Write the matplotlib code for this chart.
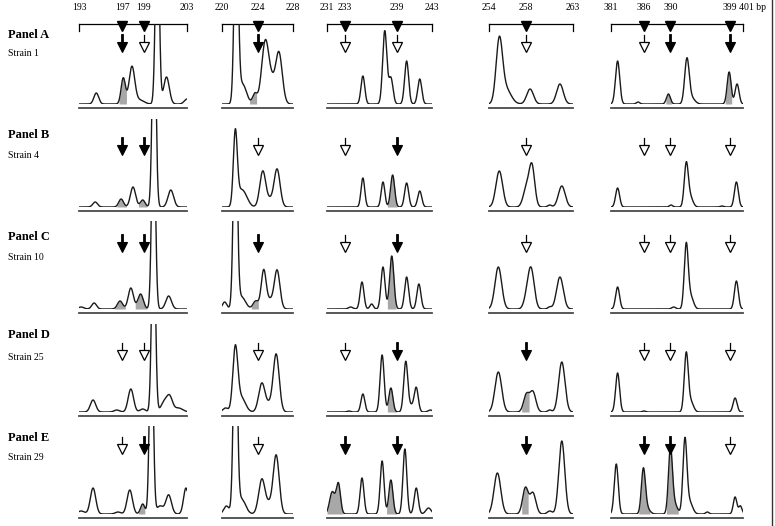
import numpy as np
import matplotlib
matplotlib.use('Agg')
import matplotlib.pyplot as plt
from matplotlib.lines import Line2D

plt.rcParams['font.family'] = ['Liberation Serif', 'DejaVu Serif']

# size windows (bp) of the five loci and the sizes marked on the scale
loci_lo = [193, 220, 231, 254, 381]
loci_hi = [203, 228, 243, 263, 401]
loci_marks = [[197, 199], [224], [233, 239], [258], [386, 390, 399]]

panels = ['Panel A', 'Panel B', 'Panel C', 'Panel D', 'Panel E']
strains = ['Strain 1', 'Strain 4', 'Strain 10', 'Strain 25', 'Strain 29']

# arrow over each marked size: 'f' filled (peak present), 'o' open (absent)
arrows = [
    [['f', 'o'], ['f'], ['o', 'o'], ['o'], ['o', 'f', 'f']],
    [['f', 'f'], ['o'], ['o', 'f'], ['o'], ['o', 'o', 'o']],
    [['f', 'f'], ['f'], ['o', 'f'], ['o'], ['o', 'o', 'o']],
    [['o', 'o'], ['o'], ['o', 'f'], ['f'], ['o', 'o', 'o']],
    [['o', 'f'], ['o'], ['f', 'f'], ['f'], ['f', 'f', 'o']],
]

# peaks: (size bp, height, width bp)
peaks_a = [
    [(194.6, 11, 0.22), (197.1, 26, 0.2), (197.9, 37, 0.26), (198.6, 4, 0.4),
     (200.25, 200, 0.17), (201.1, 27, 0.26), (203.0, 5, 0.25)],
    [(221.6, 200, 0.22), (222.3, 20, 0.45), (223.7, 10, 0.25), (224.9, 64, 0.42),
     (225.65, 12, 0.3), (226.4, 52, 0.38)],
    [(235.1, 28, 0.22), (237.6, 73, 0.24), (238.3, 26, 0.24), (240.1, 43, 0.23),
     (241.6, 25, 0.23)],
    [(255.1, 61, 0.34), (255.8, 15, 0.55), (258.4, 15, 0.36), (261.6, 20, 0.36)],
    [(382.0, 43, 0.32), (385.1, 2, 0.25), (389.7, 10, 0.3), (392.5, 44, 0.34),
     (393.2, 6, 0.5), (398.9, 32, 0.3), (400.1, 20, 0.3)],
]
peaks_b = [
    [(194.5, 5, 0.22), (196.9, 8, 0.22), (198.0, 20, 0.24), (198.9, 7, 0.22),
     (199.95, 200, 0.17), (201.5, 17, 0.26)],
    [(221.5, 72, 0.22), (222.1, 15, 0.45), (222.7, 6, 0.4), (224.6, 36, 0.34),
     (225.4, 6, 0.3), (226.2, 38, 0.34)],
    [(235.1, 29, 0.21), (237.4, 25, 0.21), (238.5, 32, 0.23), (240.1, 24, 0.23),
     (241.6, 16, 0.23)],
    [(255.1, 36, 0.36), (258.0, 18, 0.34), (258.6, 40, 0.3), (260.5, 2, 0.2),
     (261.8, 21, 0.36)],
    [(382.0, 19, 0.3), (390.1, 2, 0.25), (392.4, 42, 0.3), (393.0, 10, 0.4),
     (397.8, 1, 0.25), (400.0, 25, 0.3)],
]
peaks_c = [
    [(193.2, 2, 0.25), (194.4, 6, 0.22), (196.8, 8, 0.24), (197.8, 21, 0.24),
     (198.7, 15, 0.25), (199.9, 200, 0.17), (201.3, 13, 0.26)],
    [(220.3, 7, 0.25), (221.5, 200, 0.22), (222.2, 12, 0.45), (223.8, 8, 0.3),
     (224.7, 39, 0.28), (225.4, 8, 0.3), (226.2, 39, 0.32)],
    [(233.7, 2, 0.25), (235.0, 27, 0.22), (236.1, 5, 0.2), (237.4, 42, 0.23),
     (238.4, 53, 0.24), (240.1, 32, 0.23), (241.5, 25, 0.23)],
    [(255.0, 42, 0.36), (258.0, 8, 0.3), (258.5, 40, 0.34), (260.5, 2, 0.2),
     (261.6, 32, 0.36)],
    [(382.0, 22, 0.3), (390.5, 2, 0.3), (392.4, 64, 0.3), (393.1, 12, 0.4),
     (400.0, 28, 0.3)],
]
peaks_d = [
    [(194.3, 12, 0.25), (196.5, 2, 0.25), (197.8, 23, 0.25), (198.9, 3, 0.25),
     (199.9, 200, 0.17), (200.9, 10, 0.3), (201.4, 14, 0.26), (202.2, 4, 0.4)],
    [(220.4, 4, 0.3), (221.5, 63, 0.28), (222.2, 14, 0.45), (224.5, 29, 0.36),
     (225.3, 6, 0.3), (226.1, 58, 0.34)],
    [(233.5, 1, 0.2), (235.1, 18, 0.22), (237.3, 57, 0.23), (238.3, 24, 0.23),
     (240.0, 50, 0.23), (240.6, 6, 0.3), (241.2, 24, 0.23), (242.8, 2, 0.25)],
    [(255.0, 40, 0.36), (258.0, 17, 0.3), (258.7, 20, 0.32), (260.5, 2, 0.2),
     (261.8, 50, 0.34)],
    [(382.0, 39, 0.3), (386.0, 1, 0.25), (392.4, 58, 0.3), (393.1, 10, 0.4),
     (399.8, 14, 0.3)],
]
peaks_e = [
    [(193.2, 3, 0.3), (194.3, 26, 0.25), (196.6, 2, 0.25), (197.7, 24, 0.25),
     (198.9, 10, 0.2), (199.7, 200, 0.17), (200.5, 8, 0.3), (201.3, 19, 0.26),
     (202.9, 26, 0.22)],
    [(220.5, 8, 0.3), (221.5, 200, 0.22), (222.2, 15, 0.45), (224.5, 35, 0.36),
     (225.3, 8, 0.3), (226.1, 59, 0.34)],
    [(231.6, 22, 0.3), (232.3, 30, 0.24), (235.0, 36, 0.22), (237.3, 53, 0.22),
     (238.3, 34, 0.23), (239.9, 65, 0.22), (241.2, 26, 0.23), (242.6, 6, 0.3)],
    [(254.9, 41, 0.36), (257.9, 26, 0.3), (258.7, 21, 0.32), (260.5, 3, 0.25),
     (261.8, 73, 0.32)],
    [(381.8, 50, 0.3), (385.9, 43, 0.3), (386.4, 6, 0.45), (390.0, 63, 0.3),
     (390.6, 10, 0.45), (392.2, 73, 0.3), (392.9, 12, 0.45), (395.6, 2, 0.25),
     (399.8, 17, 0.27), (400.6, 8, 0.25)],
]
peaks = [peaks_a, peaks_b, peaks_c, peaks_d, peaks_e]

# shaded (grey) areas under the traces, bp from - to
shades = [
    [[(196.7, 197.4)], [(223.1, 223.9)], [], [], [(389.3, 390.2), (398.3, 399.3)]],
    [[(196.5, 197.4), (198.5, 199.3)], [], [(237.9, 239.0)], [], []],
    [[(196.3, 197.3), (198.2, 199.3)], [(223.3, 224.1)], [(237.9, 238.9)], [], []],
    [[], [], [(237.9, 239.0)], [(257.5, 258.3)], []],
    [[(198.5, 199.1)], [], [(231.0, 232.8), (237.8, 239.0)], [(257.5, 258.2)],
     [(385.2, 386.9), (389.4, 391.2)]],
]

# ---- layout (pixels of a 775 x 526 figure) ----
W, H = 775, 526
col_px = [(79, 187), (222, 293), (327, 432), (489, 573), (611, 743)]
row_base = [104, 207, 309, 412, 514]
row_top = [24, 119, 221, 324, 426]
arrow_tip = [52, 52, 57, 52, 60]
panel_y = [35, 135, 237, 335, 438]
strain_y = [54, 155, 258, 358, 458]

fig = plt.figure(figsize=(W / 100, H / 100), dpi=100)
fig.patch.set_facecolor('white')

for c in range(5):
    lo, hi = loci_lo[c], loci_hi[c]
    x0, x1 = col_px[c]

    # size scale on top
    sax = fig.add_axes([x0 / W, 1 - 40 / H, (x1 - x0) / W, 40 / H])
    sax.set_xlim(lo, hi)
    sax.set_ylim(40, 0)
    sax.axis('off')
    sax.plot([lo, hi], [24, 24], color='k', lw=0.9, clip_on=False)
    for e in (lo, hi):
        sax.plot([e, e], [24, 31], color='k', lw=0.9, clip_on=False)
    sax.plot(loci_marks[c], [25.5] * len(loci_marks[c]), 'v', ms=7.5,
             color='k', clip_on=False)
    for v in [lo] + loci_marks[c]:
        sax.text(v, 7, str(v), ha='center', va='center', fontsize=7)
    if c == 4:
        sax.annotate('%d bp' % hi, (hi, 7), xytext=(-3, 0),
                     textcoords='offset points', ha='left', va='center',
                     fontsize=7)
    else:
        sax.text(hi, 7, str(hi), ha='center', va='center', fontsize=7)

    for r in range(5):
        base, top = row_base[r], row_top[r]
        hgt = base - top
        ax = fig.add_axes([x0 / W, 1 - base / H, (x1 - x0) / W, hgt / H])
        ax.set_xlim(lo, hi)
        ax.set_ylim(0, hgt)
        ax.axis('off')

        x = np.linspace(lo, hi, 900)
        y = np.zeros_like(x)
        for p, h, s in peaks[r][c]:
            y += h * np.exp(-0.5 * ((x - p) / s) ** 2)

        for a, b in shades[r][c]:
            m = (x >= a) & (x <= b)
            ax.fill_between(x[m], 0, y[m], color='#a8a8a8', lw=0)
        ax.plot(x, y, color='#1a1a1a', lw=1.0)
        ax.plot([lo, hi], [-4, -4], color='#4a4a4a', lw=1.3, clip_on=False)

        tip = arrow_tip[r]
        for bp, kind in zip(loci_marks[c], arrows[r][c]):
            if kind == 'f':
                ax.plot([bp, bp], [tip + 7, tip + 17], color='k', lw=2.0,
                        clip_on=False, zorder=4)
                ax.plot(bp, tip + 4.8, 'v', ms=7, mfc='k', mec='k', mew=0.8,
                        clip_on=False, zorder=5)
            else:
                ax.plot([bp, bp], [tip + 8, tip + 17], color='k', lw=0.9,
                        clip_on=False, zorder=4)
                ax.plot(bp, tip + 4.8, 'v', ms=7, mfc='white', mec='k',
                        mew=0.9, clip_on=False, zorder=5)

for r in range(5):
    fig.text(8 / W, 1 - panel_y[r] / H, panels[r], fontsize=9,
             fontweight='bold', ha='left', va='center')
    fig.text(8 / W, 1 - strain_y[r] / H, strains[r], fontsize=7,
             ha='left', va='center')

fig.add_artist(Line2D([772 / W, 772 / W], [0, 1], transform=fig.transFigure,
                      color='#333333', lw=1.0))

fig.savefig('out.png', dpi=100, facecolor='white')
